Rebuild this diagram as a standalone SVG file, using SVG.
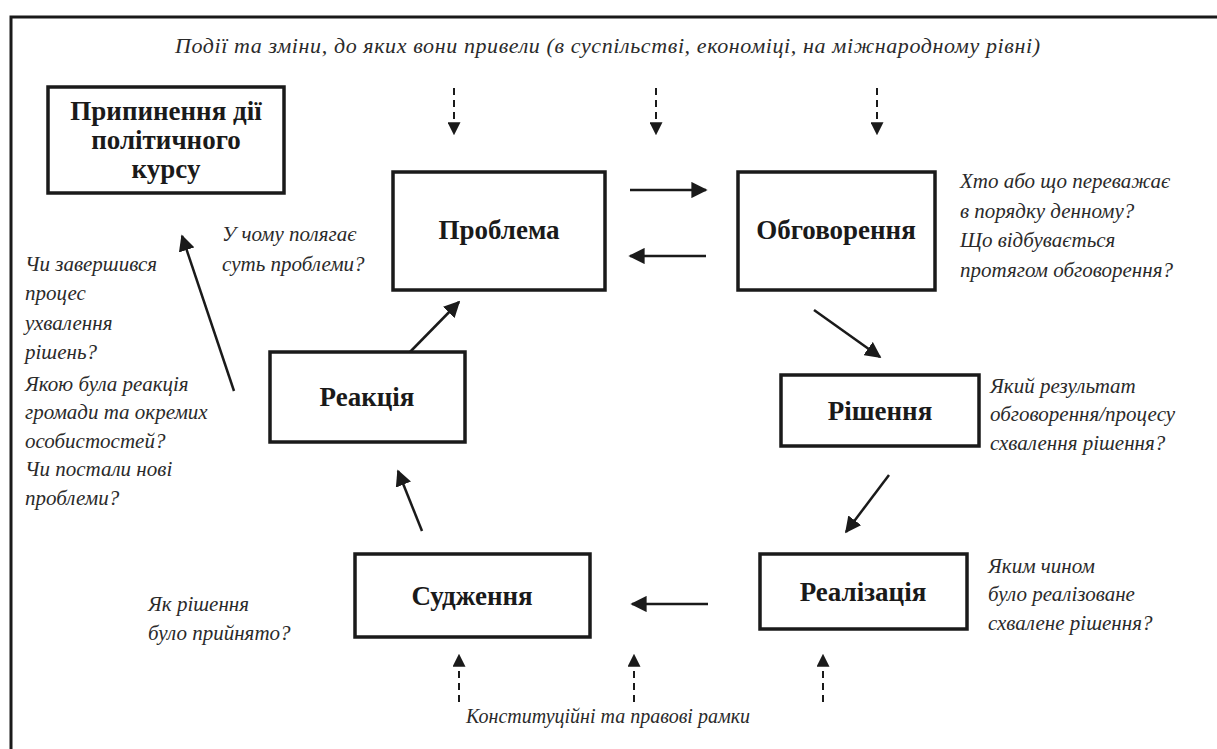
<svg xmlns="http://www.w3.org/2000/svg" width="1217" height="749" viewBox="0 0 1217 749">
<defs>
<style>
.box{fill:#fff;stroke:#1a1a1a;stroke-width:3.5}
.lbl{font-family:"Liberation Serif","DejaVu Serif",serif;font-weight:bold;font-size:27px;fill:#1a1a1a;text-anchor:middle}
.q{font-family:"Liberation Serif","DejaVu Serif",serif;font-style:italic;font-size:21px;fill:#2a2a2a}
.ar{stroke:#1a1a1a;stroke-width:2.5;fill:none;marker-end:url(#ah)}
.da{stroke:#1a1a1a;stroke-width:2;fill:none;stroke-dasharray:7 5;marker-end:url(#ah)}
</style>
<marker id="ah" viewBox="0 0 10 10" refX="9" refY="5" markerWidth="6.5" markerHeight="6.5" markerUnits="strokeWidth" orient="auto">
<path d="M0,0 L10,5 L0,10 z" fill="#1a1a1a"/>
</marker>
</defs>
<rect width="1217" height="749" fill="#fff"/>
<path d="M11,749 V17 H1217" fill="none" stroke="#1a1a1a" stroke-width="3"/>

<text class="q" x="175" y="53" style="font-size:22px" textLength="865" lengthAdjust="spacing">Події та зміни, до яких вони привели (в суспільстві, економіці, на міжнародному рівні)</text>
<text class="q" x="608" y="723" text-anchor="middle" style="font-size:20px">Конституційні та правові рамки</text>

<g id="connectors">
<line class="da" x1="454" y1="88" x2="454" y2="134"/>
<line class="da" x1="656" y1="88" x2="656" y2="134"/>
<line class="da" x1="877" y1="88" x2="877" y2="134"/>
<line class="da" x1="459" y1="702" x2="459" y2="655"/>
<line class="da" x1="634" y1="702" x2="634" y2="655"/>
<line class="da" x1="823" y1="702" x2="823" y2="655"/>
<line class="ar" x1="630" y1="190" x2="706" y2="190"/>
<line class="ar" x1="706" y1="256" x2="630" y2="256"/>
<line class="ar" x1="814" y1="310" x2="880" y2="357"/>
<line class="ar" x1="889" y1="475" x2="846" y2="532"/>
<line class="ar" x1="708" y1="604" x2="632" y2="604"/>
<line class="ar" x1="422" y1="531" x2="398" y2="471"/>
<line class="ar" x1="408" y1="354" x2="459" y2="302"/>
<line class="ar" x1="234" y1="391" x2="182" y2="236"/>
</g>

<g id="node-stop">
<rect class="box" x="48" y="87" width="236" height="106"/>
<text class="lbl" x="166" y="120">Припинення дії</text>
<text class="lbl" x="166" y="149">політичного</text>
<text class="lbl" x="166" y="178">курсу</text>
</g>
<g id="node-problem">
<rect class="box" x="393" y="172" width="212" height="118"/>
<text class="lbl" x="499" y="239">Проблема</text>
</g>
<g id="node-discussion">
<rect class="box" x="738" y="172" width="197" height="118"/>
<text class="lbl" x="836" y="239">Обговорення</text>
</g>
<g id="node-decision">
<rect class="box" x="781" y="375" width="198" height="71"/>
<text class="lbl" x="880" y="420">Рішення</text>
</g>
<g id="node-implementation">
<rect class="box" x="760" y="554" width="207" height="75"/>
<text class="lbl" x="863" y="601">Реалізація</text>
</g>
<g id="node-judgement">
<rect class="box" x="355" y="554" width="235" height="83"/>
<text class="lbl" x="472" y="605">Судження</text>
</g>
<g id="node-reaction">
<rect class="box" x="270" y="352" width="195" height="90"/>
<text class="lbl" x="367" y="406">Реакція</text>
</g>

<g id="questions">
<text class="q" x="960" y="188">Хто або що переважає</text>
<text class="q" x="960" y="218">в порядку денному?</text>
<text class="q" x="960" y="247">Що відбувається</text>
<text class="q" x="960" y="277">протягом обговорення?</text>
<text class="q" x="222" y="241">У чому полягає</text>
<text class="q" x="222" y="271">суть проблеми?</text>
<text class="q" x="990" y="393">Який результат</text>
<text class="q" x="990" y="421">обговорення/процесу</text>
<text class="q" x="990" y="450">схвалення рішення?</text>
<text class="q" x="988" y="573">Яким чином</text>
<text class="q" x="988" y="601">було реалізоване</text>
<text class="q" x="988" y="630">схвалене рішення?</text>
<text class="q" x="148" y="611">Як рішення</text>
<text class="q" x="148" y="640">було прийнято?</text>
<text class="q" x="25" y="271">Чи завершився</text>
<text class="q" x="25" y="300">процес</text>
<text class="q" x="25" y="330">ухвалення</text>
<text class="q" x="25" y="359">рішень?</text>
<text class="q" x="25" y="391">Якою була реакція</text>
<text class="q" x="25" y="419">громади та окремих</text>
<text class="q" x="25" y="448">особистостей?</text>
<text class="q" x="25" y="476">Чи постали нові</text>
<text class="q" x="25" y="505">проблеми?</text>
</g>
</svg>
